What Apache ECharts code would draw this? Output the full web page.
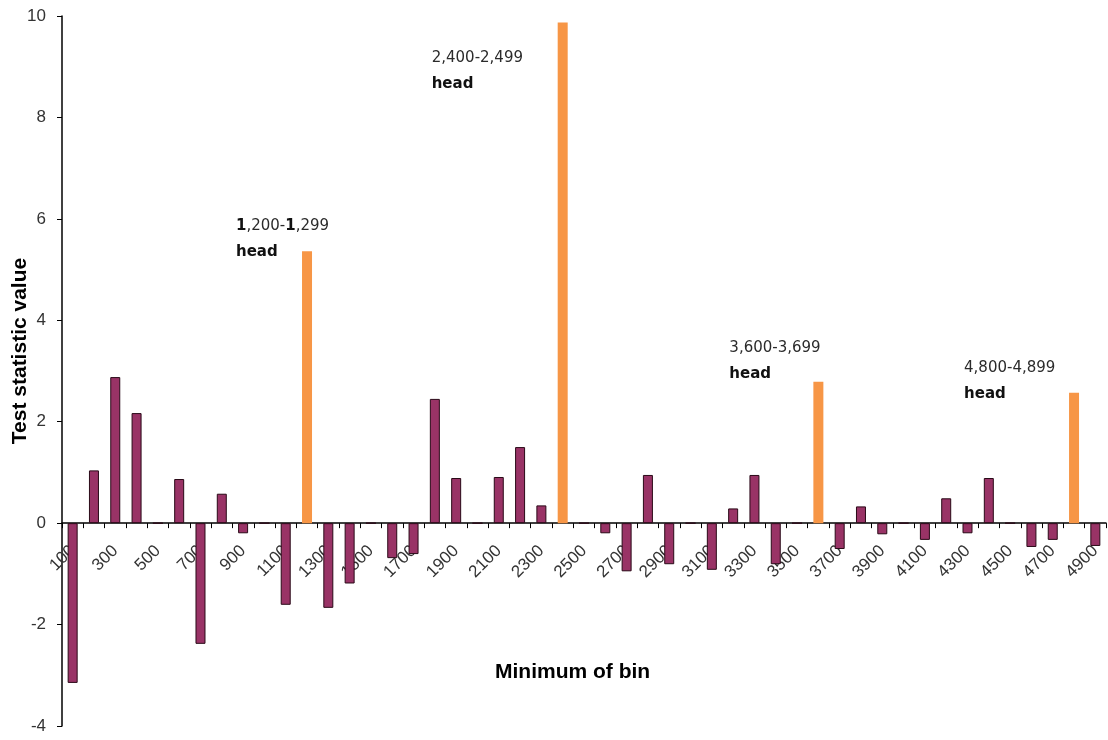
<!DOCTYPE html>
<html>
<head>
<meta charset="utf-8">
<style>
  html, body { margin: 0; padding: 0; background: #ffffff; }
  #chart { width: 1108px; height: 740px; }
</style>
<script src="https://cdn.jsdelivr.net/npm/echarts@6/dist/echarts.min.js"></script>
</head>
<body>
<div id="chart"></div>
<script>
// Bin minimums (x categories)
const bins = [
  '100', '200', '300', '400', '500', '600', '700', '800', '900', '1000',
  '1100', '1200', '1300', '1400', '1500', '1600', '1700', '1800', '1900', '2000',
  '2100', '2200', '2300', '2400', '2500', '2600', '2700', '2800', '2900', '3000',
  '3100', '3200', '3300', '3400', '3500', '3600', '3700', '3800', '3900', '4000',
  '4100', '4200', '4300', '4400', '4500', '4600', '4700', '4800', '4900'
];

// Test statistic per bin
const testStat = [
  -3.15, 1.04, 2.88, 2.17, 0, 0.87, -2.38, 0.58, -0.20, 0,
  -1.61, 5.36, -1.67, -1.19, 0, -0.69, -0.61, 2.45, 0.89, 0,
  0.91, 1.50, 0.35, 9.87, 0, -0.20, -0.95, 0.95, -0.81, 0,
  -0.92, 0.29, 0.95, -0.81, 0, 2.79, -0.51, 0.33, -0.22, 0,
  -0.33, 0.49, -0.20, 0.89, 0, -0.47, -0.33, 2.57, -0.45
];

// Highlighted "head" bins and their range captions
const headBins = ['1200', '2400', '3600', '4800'];
const headRanges = [
  '{b|1}{n|,200-}{b|1}{n|,299}',
  '{n|2,400-2,499}',
  '{n|3,600-3,699}',
  '{n|4,800-4,899}'
];
const headWord = 'head';

// Y axis range
const yMin = -4, yMax = 10, yStep = 2;

// Plot area
const GRID = { left: 62, right: 2, top: 16, bottom: 14 };
const CHART_H = 740;
const plotH = CHART_H - GRID.top - GRID.bottom;
// lift the category axis from the bottom edge up to the zero line
const zeroLift = plotH * (0 - yMin) / (yMax - yMin);

// Caption placement relative to each highlighted bar's top-left corner
const captionOffsets = [[-66, -38], [-126, 23], [-84, -47], [-105, -38]];

const MAROON = '#993366';
const ORANGE = '#F79646';

const barData = testStat.map((v, i) => {
  const h = headBins.indexOf(bins[i]);
  if (h < 0) {
    return { value: v };
  }
  return {
    value: v,
    itemStyle: { color: ORANGE, borderWidth: 0 },
    label: {
      show: true,
      position: captionOffsets[h],
      formatter: headRanges[h] + '\n{h|' + headWord + '}',
      lineHeight: 26,
      rich: {
        n: { fontFamily: 'DejaVu Sans', fontSize: 15, color: '#2b2b2b', lineHeight: 26 },
        b: { fontFamily: 'DejaVu Sans', fontSize: 15, fontWeight: 'bold', color: '#111', lineHeight: 26 },
        h: { fontFamily: 'DejaVu Sans', fontSize: 15, fontWeight: 'bold', color: '#111', lineHeight: 26 }
      }
    }
  };
});

const chart = echarts.init(document.getElementById('chart'), null, { renderer: 'canvas' });

chart.setOption({
  animation: false,
  backgroundColor: '#ffffff',
  grid: Object.assign({ containLabel: false, outerBoundsMode: 'none' }, GRID),
  xAxis: {
    type: 'category',
    data: bins,
    position: 'bottom',
    offset: -zeroLift,
    boundaryGap: true,
    z: 0,
    axisLine: { show: true, onZero: false, lineStyle: { color: '#000', width: 1.5 } },
    axisTick: { show: true, interval: 0, length: 5, inside: false, lineStyle: { color: '#000' } },
    axisLabel: {
      interval: 1,
      rotate: 45,
      margin: 25,
      fontFamily: 'Liberation Sans',
      fontSize: 17,
      color: '#333'
    },
    splitLine: { show: false }
  },
  yAxis: {
    type: 'value',
    min: yMin,
    max: yMax,
    interval: yStep,
    axisLine: { show: true, lineStyle: { color: '#000', width: 1.5 } },
    axisTick: { show: true, length: 5, lineStyle: { color: '#000' } },
    axisLabel: {
      margin: 16,
      fontFamily: 'Liberation Sans',
      fontSize: 17,
      color: '#333'
    },
    splitLine: { show: false }
  },
  graphic: [
    {
      type: 'text',
      left: 495,
      top: 662,
      style: {
        text: 'Minimum of bin',
        font: 'bold 21px "Liberation Sans"',
        fill: '#000'
      }
    },
    {
      type: 'text',
      x: 20,
      y: 351,
      rotation: Math.PI / 2,
      style: {
        text: 'Test statistic value',
        font: 'bold 21px "Liberation Sans"',
        fill: '#000',
        align: 'center',
        verticalAlign: 'middle'
      }
    }
  ],
  series: [
    {
      type: 'bar',
      zlevel: 1,
      data: barData,
      barWidth: 10,
      itemStyle: { color: MAROON, borderColor: '#2a0a18', borderWidth: 1 },
      label: { show: false }
    }
  ]
});
</script>
</body>
</html>
